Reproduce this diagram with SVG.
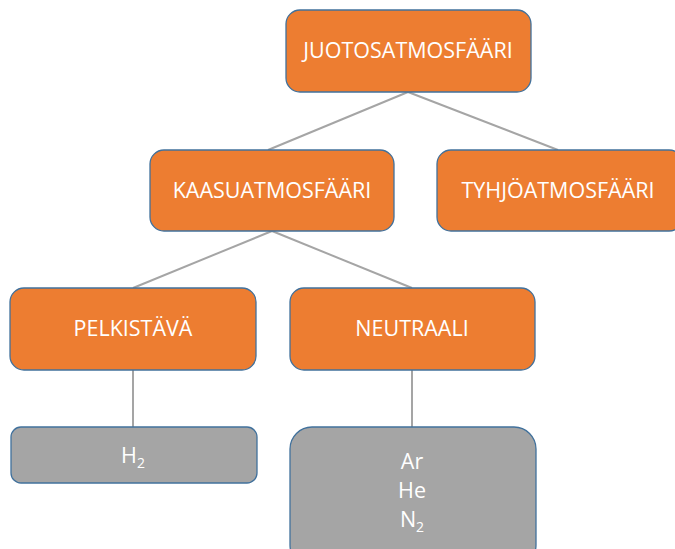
<svg xmlns="http://www.w3.org/2000/svg" width="675" height="549" viewBox="0 0 675 549">
<style>
.o{fill:#ED7D31;stroke:#41719C;stroke-width:1.3}
.g{fill:#A5A5A5;stroke:#41719C;stroke-width:1.3}
.t{font-family:"Open Sans","Liberation Sans",sans-serif;font-size:21.5px;fill:#FFFFFF;text-anchor:middle}
.s{font-size:14px}
.c line{stroke:#A5A5A5;stroke-width:2}
</style>
<rect width="675" height="549" fill="#FFFFFF"/>
<g class="c" id="connectors">
<line x1="408" y1="92" x2="268" y2="150"/>
<line x1="408" y1="92" x2="558" y2="150"/>
<line x1="272" y1="231" x2="133" y2="288"/>
<line x1="272" y1="231" x2="412" y2="288"/>
<line x1="133" y1="370" x2="133" y2="427"/>
<line x1="412" y1="370" x2="412" y2="427"/>
</g>
<g id="juotos"><rect class="o" x="286" y="10" width="245" height="82" rx="14"/><text class="t" x="408" y="58">JUOTOSATMOSFÄÄRI</text></g>
<g id="kaasu"><rect class="o" x="150" y="150" width="244" height="81" rx="14"/><text class="t" x="272" y="198">KAASUATMOSFÄÄRI</text></g>
<g id="tyhjo"><rect class="o" x="437" y="150" width="246" height="81" rx="14"/><text class="t" x="558" y="198">TYHJÖATMOSFÄÄRI</text></g>
<g id="pelkistava"><rect class="o" x="10" y="288" width="246" height="82" rx="14"/><text class="t" x="133" y="336">PELKISTÄVÄ</text></g>
<g id="neutraali"><rect class="o" x="290" y="288" width="245" height="82" rx="14"/><text class="t" x="412" y="336">NEUTRAALI</text></g>
<g id="h2"><rect class="g" x="11" y="427" width="246" height="56" rx="10"/><text class="t" x="133" y="463">H<tspan class="s" dy="5">2</tspan></text></g>
<g id="gases"><rect class="g" x="290" y="427" width="246" height="140" rx="22"/><text class="t" x="412" y="469">Ar</text><text class="t" x="412" y="498">He</text><text class="t" x="412" y="527">N<tspan class="s" dy="5">2</tspan></text></g>
</svg>
